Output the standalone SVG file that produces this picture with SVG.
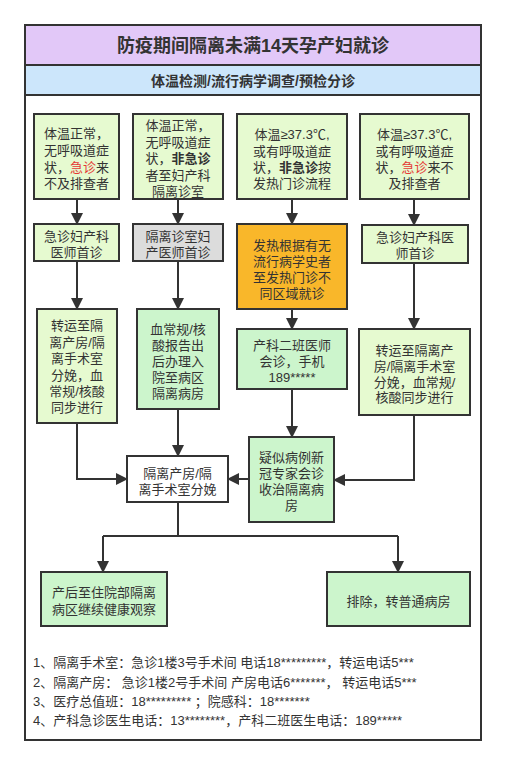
<svg xmlns="http://www.w3.org/2000/svg" width="512" height="768" viewBox="0 0 512 768">
<style>
text{font-family:"Liberation Sans","Noto Sans CJK SC",sans-serif;fill:#333;}
.t{font-size:13px;text-anchor:middle;dominant-baseline:central;}
.box{stroke:#333;stroke-width:2;}
.lg{fill:#e6fad0;}
.mg{fill:#ccf5cc;}
.or{fill:#f9b72a;}
.gr{fill:#dcdcdc;}
.wh{fill:#fff;}
.red{fill:#e53935;}
.b{font-weight:bold;}
.c{fill:none;stroke:#333;stroke-width:2;}
.n{font-size:13px;dominant-baseline:central;}
</style>
<defs>
<marker id="ah" markerUnits="userSpaceOnUse" markerWidth="12" markerHeight="12" refX="11" refY="6" orient="auto">
<path d="M0,0 L12,6 L0,12 Z" fill="#333"/>
</marker>
</defs>
<rect width="512" height="768" fill="#fff"/>
<g id="frame">
<rect x="25" y="25" width="456" height="715" fill="#fff" stroke="#333" stroke-width="2"/>
<rect x="25" y="25" width="456" height="40" fill="#e2c8f8" stroke="#333" stroke-width="2"/>
<rect x="25" y="65" width="456" height="30" fill="#cce6fb" stroke="#333" stroke-width="2"/>
<text x="253" y="46" text-anchor="middle" dominant-baseline="central" font-size="18" font-weight="bold">防疫期间隔离未满14天孕产妇就诊</text>
<text x="253" y="81" text-anchor="middle" dominant-baseline="central" font-size="14" font-weight="bold">体温检测/流行病学调查/预检分诊</text>
</g>
<g id="connectors">
<path class="c" d="M77,199 V224" marker-end="url(#ah)"/>
<path class="c" d="M178,199 V224" marker-end="url(#ah)"/>
<path class="c" d="M292,199 V224" marker-end="url(#ah)"/>
<path class="c" d="M414,199 V225" marker-end="url(#ah)"/>
<path class="c" d="M77,261 V309" marker-end="url(#ah)"/>
<path class="c" d="M178,261 V309" marker-end="url(#ah)"/>
<path class="c" d="M292,309 V329" marker-end="url(#ah)"/>
<path class="c" d="M414,263 V329" marker-end="url(#ah)"/>
<path class="c" d="M292,389 V437" marker-end="url(#ah)"/>
<path class="c" d="M414,415 V480 H334" marker-end="url(#ah)"/>
<path class="c" d="M77,423 V479 H127" marker-end="url(#ah)"/>
<path class="c" d="M178,409 V456" marker-end="url(#ah)"/>
<path class="c" d="M249,479 H228" marker-end="url(#ah)"/>
<path class="c" d="M178,502 V536"/>
<path class="c" d="M103,536 H398"/>
<path class="c" d="M103,536 V572" marker-end="url(#ah)"/>
<path class="c" d="M398,536 V572" marker-end="url(#ah)"/>
</g>
<g id="n1">
<rect class="box lg" x="34" y="114" width="85" height="85"/>
<text class="t"><tspan x="76.5" y="133">体温正常，</tspan><tspan x="76.5" y="150">无呼吸道症</tspan><tspan x="76.5" y="167">状，<tspan class="red">急诊</tspan>来</tspan><tspan x="76.5" y="183">不及排查者</tspan></text>
</g>
<g id="n2">
<rect class="box lg" x="133" y="114" width="90" height="85"/>
<text class="t"><tspan x="178" y="125">体温正常，</tspan><tspan x="178" y="142">无呼吸道症</tspan><tspan x="178" y="158">状，<tspan class="b">非急诊</tspan></tspan><tspan x="178" y="175">者至妇产科</tspan><tspan x="178" y="191">隔离诊室</tspan></text>
</g>
<g id="n3">
<rect class="box lg" x="237" y="114" width="110" height="85"/>
<text class="t"><tspan x="292" y="134">体温≥37.3℃,</tspan><tspan x="292" y="151">或有呼吸道症</tspan><tspan x="292" y="167">状，<tspan class="b">非急诊</tspan>按</tspan><tspan x="292" y="183">发热门诊流程</tspan></text>
</g>
<g id="n4">
<rect class="box lg" x="360" y="114" width="109" height="85"/>
<text class="t"><tspan x="414.5" y="134">体温≥37.3℃,</tspan><tspan x="414.5" y="151">或有呼吸道症</tspan><tspan x="414.5" y="167">状，<tspan class="red">急诊</tspan>来不</tspan><tspan x="414.5" y="183">及排查者</tspan></text>
</g>
<g id="n5">
<rect class="box lg" x="34" y="224" width="85" height="37"/>
<text class="t"><tspan x="76.5" y="236">急诊妇产科</tspan><tspan x="76.5" y="252">医师首诊</tspan></text>
</g>
<g id="n6">
<rect class="box gr" x="133" y="224" width="90" height="37"/>
<text class="t"><tspan x="178" y="236">隔离诊室妇</tspan><tspan x="178" y="252">产医师首诊</tspan></text>
</g>
<g id="n7">
<rect class="box or" x="237" y="224" width="110" height="85"/>
<text class="t"><tspan x="292" y="245">发热根据有无</tspan><tspan x="292" y="261">流行病学史者</tspan><tspan x="292" y="277">至发热门诊不</tspan><tspan x="292" y="293">同区域就诊</tspan></text>
</g>
<g id="n8">
<rect class="box lg" x="362" y="225" width="106" height="38"/>
<text class="t"><tspan x="415" y="237">急诊妇产科医</tspan><tspan x="415" y="253">师首诊</tspan></text>
</g>
<g id="n9">
<rect class="box lg" x="37" y="309" width="80" height="114"/>
<text class="t"><tspan x="77" y="325">转运至隔</tspan><tspan x="77" y="342">离产房/隔</tspan><tspan x="77" y="358">离手术室</tspan><tspan x="77" y="375">分娩，血</tspan><tspan x="77" y="391">常规/核酸</tspan><tspan x="77" y="407">同步进行</tspan></text>
</g>
<g id="n10">
<rect class="box mg" x="137" y="309" width="82" height="100"/>
<text class="t"><tspan x="178" y="329">血常规/核</tspan><tspan x="178" y="345">酸报告出</tspan><tspan x="178" y="361">后办理入</tspan><tspan x="178" y="377">院至病区</tspan><tspan x="178" y="393">隔离病房</tspan></text>
</g>
<g id="n11">
<rect class="box mg" x="237" y="329" width="110" height="60"/>
<text class="t"><tspan x="292" y="345">产科二班医师</tspan><tspan x="292" y="361">会诊，手机</tspan><tspan x="292" y="377">189*****</tspan></text>
</g>
<g id="n12">
<rect class="box lg" x="359" y="329" width="111" height="86"/>
<text class="t"><tspan x="414.5" y="350">转运至隔离产</tspan><tspan x="414.5" y="366">房/隔离手术室</tspan><tspan x="414.5" y="382">分娩，血常规/</tspan><tspan x="414.5" y="397">核酸同步进行</tspan></text>
</g>
<g id="n13">
<rect class="box wh" x="127" y="456" width="101" height="46"/>
<text class="t"><tspan x="177.5" y="473">隔离产房/隔</tspan><tspan x="177.5" y="489">离手术室分娩</tspan></text>
</g>
<g id="n14">
<rect class="box mg" x="249" y="437" width="85" height="85"/>
<text class="t"><tspan x="291.5" y="457">疑似病例新</tspan><tspan x="291.5" y="473">冠专家会诊</tspan><tspan x="291.5" y="489">收治隔离病</tspan><tspan x="291.5" y="505">房</tspan></text>
</g>
<g id="n15">
<rect class="box mg" x="41" y="572" width="126" height="54"/>
<text class="t"><tspan x="104" y="592">产后至住院部隔离</tspan><tspan x="104" y="609">病区继续健康观察</tspan></text>
</g>
<g id="n16">
<rect class="box mg" x="327" y="572" width="143" height="54"/>
<text class="t"><tspan x="398.5" y="601">排除，转普通病房</tspan></text>
</g>
<g id="notes">
<text class="n" x="33" y="662">1、隔离手术室：急诊1楼3号手术间 电话18*********，转运电话5***</text>
<text class="n" x="33" y="682">2、隔离产房： 急诊1楼2号手术间  产房电话6*******， 转运电话5***</text>
<text class="n" x="33" y="701">3、医疗总值班：18********* ；院感科：18*******</text>
<text class="n" x="33" y="720">4、产科急诊医生电话：13********，产科二班医生电话：189*****</text>
</g>
</svg>
